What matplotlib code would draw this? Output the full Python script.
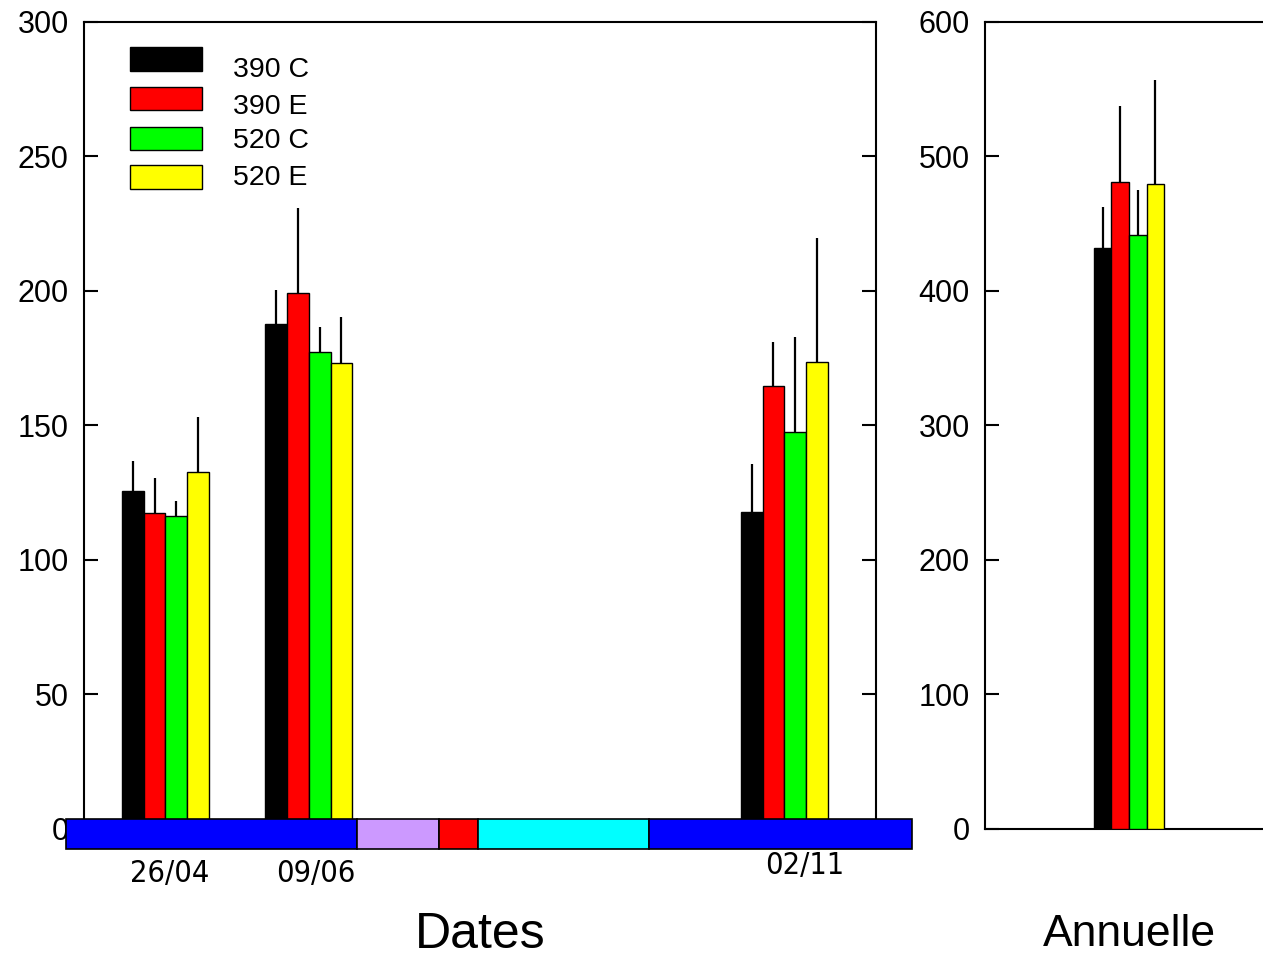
import numpy as np
import matplotlib.pyplot as plt
from matplotlib.patches import Rectangle

################################################################################
# Data
series = ['390 C', '390 E', '520 C', '520 E']
colors = ['#000000', '#ff0000', '#00ff00', '#ffff00']

date_labels = ['26/04', '09/06', '02/11']
date_days = [116, 160, 306]  # day of year

dates_mean = [[125.8, 187.7, 118.0],   # 390 C
              [117.4, 199.4, 164.8],   # 390 E
              [116.4, 177.2, 147.7],   # 520 C
              [132.8, 173.1, 173.6]]   # 520 E
dates_err = [[11.0, 12.7, 17.6],
             [13.2, 31.3, 16.1],
             [5.6, 9.3, 35.3],
             [20.5, 17.3, 46.2]]

annual_mean = [432.0, 481.0, 441.6, 479.7]
annual_err = [30.5, 56.6, 33.4, 77.2]

# Phenology strip below the date axis (day of year)
strip_edges = [85.5, 174.8, 200.0, 211.9, 264.4, 345.1]
strip_colors = ['#0000ff', '#cc99ff', '#ff0000', '#00ffff', '#0000ff']

################################################################################
# Style
plt.rcParams['font.family'] = ['Liberation Sans', 'DejaVu Sans']
lw_spine = 1.5
bar_kw = dict(edgecolor='black', linewidth=1.0)
err_kw = dict(elinewidth=1.6, capsize=0, ecolor='black')

fig = plt.figure(figsize=(12.63, 9.57), dpi=100)
ax1 = fig.add_axes([0.0665, 0.1338, 0.627, 0.8433])
ax2 = fig.add_axes([0.7799, 0.1338, 0.228, 0.8433])

################################################################################
# Left panel: dates
w = 6.7
days = np.array(date_days, dtype=float)
for i in range(len(series)):
    ax1.bar(days + (i - 1.5) * w, dates_mean[i], width=w, color=colors[i],
            yerr=[np.zeros(len(days)), dates_err[i]], error_kw=err_kw,
            zorder=3, **bar_kw)

ax1.set_xlim(91, 334.1)
ax1.set_ylim(0, 300)
ax1.set_yticks(np.arange(0, 301, 50))
ax1.tick_params(axis='y', direction='in', length=10, width=lw_spine,
                labelsize=22, pad=11, left=True, right=True)
ax1.set_xticks([])
for s in ax1.spines.values():
    s.set_linewidth(lw_spine)
ax1.spines['bottom'].set_visible(False)

# phenology strip
for x0, x1, c in zip(strip_edges[:-1], strip_edges[1:], strip_colors):
    ax1.add_patch(Rectangle((x0, -7.4), x1 - x0, 11.1, facecolor=c,
                            edgecolor='black', linewidth=1.2,
                            clip_on=False, zorder=10))

# date labels
label_dx = [1.4, 2.2, 6.3]
label_dy = [-0.055, -0.055, -0.045]
for lab, d, dx, dy in zip(date_labels, date_days, label_dx, label_dy):
    ax1.text(d + dx, dy, lab, transform=ax1.get_xaxis_transform(),
             ha='center', va='center', fontsize=22,
             family='DejaVu Sans', fontstretch='condensed')

ax1.text(0.5, -0.131, 'Dates', transform=ax1.transAxes, ha='center',
         va='center', fontsize=36)

# manual legend
leg_y = [(0.939, 0.969), (0.891, 0.919), (0.841, 0.870), (0.793, 0.823)]
txt_y = [0.940, 0.895, 0.852, 0.807]
for (y0, y1), ty, c, lab in zip(leg_y, txt_y, colors, series):
    ax1.add_patch(Rectangle((0.058, y0), 0.091, y1 - y0, facecolor=c,
                            edgecolor='black', linewidth=1.0,
                            transform=ax1.transAxes, zorder=5))
    ax1.text(0.188, ty, lab, transform=ax1.transAxes, va='center',
             fontsize=20.5)

################################################################################
# Right panel: annual
wa = 0.0608
for i in range(len(series)):
    ax2.bar((i - 1.5) * wa, annual_mean[i], width=wa, color=colors[i],
            yerr=[[0], [annual_err[i]]], error_kw=err_kw, zorder=3, **bar_kw)

ax2.set_xlim(-0.5, 0.5)
ax2.set_ylim(0, 600)
ax2.set_yticks(np.arange(0, 601, 100))
ax2.tick_params(axis='y', direction='in', length=10, width=lw_spine,
                labelsize=22, pad=11, left=True, right=False)
ax2.set_xticks([])
for s in ax2.spines.values():
    s.set_linewidth(lw_spine)
ax2.spines['right'].set_visible(False)

ax2.text(0.5, -0.131, 'Annuelle', transform=ax2.transAxes, ha='center',
         va='center', fontsize=32)

fig.savefig('out.png', dpi=100)
